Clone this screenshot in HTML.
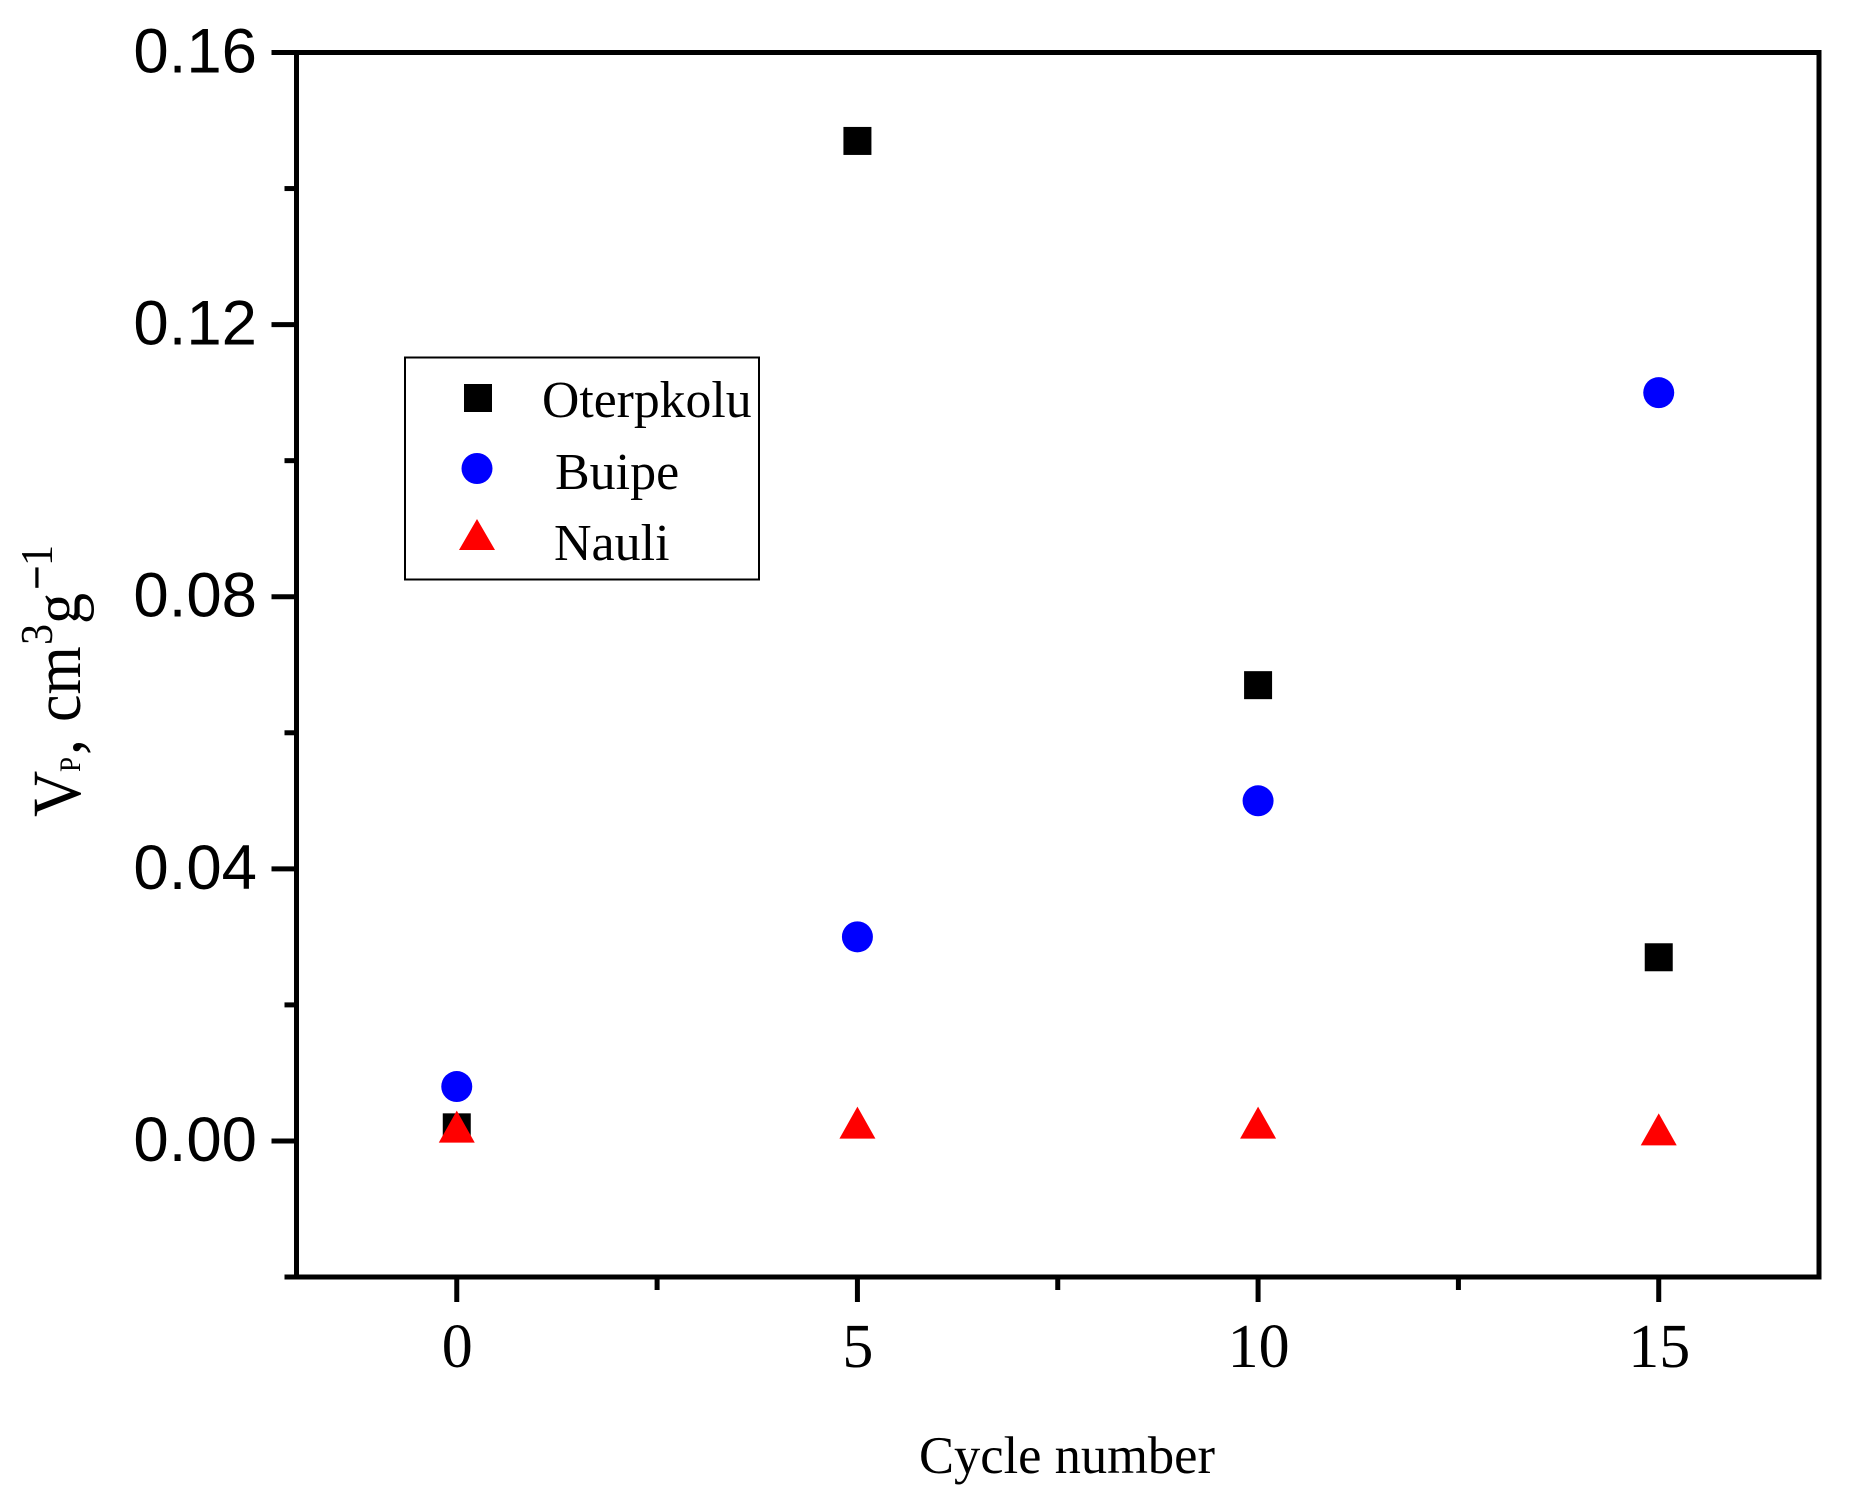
<!DOCTYPE html>
<html>
<head>
<meta charset="utf-8">
<title>Pore volume vs cycle number</title>
<style>
  html, body { margin: 0; padding: 0; background: #fff; }
  svg { display: block; }
  .sans { font-family: "Liberation Sans", Arial, sans-serif; }
  .serif { font-family: "Liberation Serif", "Times New Roman", serif; }
</style>
</head>
<body>
<svg id="chart" xmlns="http://www.w3.org/2000/svg" width="1859" height="1502" viewBox="0 0 1859 1502">
  <rect x="0" y="0" width="1859" height="1502" fill="#ffffff"/>
  <g id="ticks"></g>
  <rect id="frame" fill="none" stroke="#000" stroke-width="5"/>
  <g id="marks"></g>

  <g>
    <rect x="405" y="357.5" width="354" height="222" fill="#fff" stroke="#000" stroke-width="2"/>
    <rect x="464" y="384" width="28" height="28" fill="#000"/>
    <circle cx="477" cy="468.5" r="15.5" fill="#0000ff"/>
    <polygon points="477,519 495,550 459,550" fill="#ff0000"/>
    <text class="serif" x="542" y="417" font-size="51.7" fill="#000">Oterpkolu</text>
    <text class="serif" x="555" y="489" font-size="52" fill="#000">Buipe</text>
    <text class="serif" x="554" y="560" font-size="52" fill="#000">Nauli</text>
  </g>

  <text class="serif" x="919" y="1473" font-size="52.5" fill="#000">Cycle number</text>

  <g transform="translate(80,817) rotate(-90) scale(1,1.08)" class="serif" fill="#000">
    <text x="0" y="0" font-size="64">V</text>
    <text x="45" y="0" font-size="27">P</text>
    <text x="62" y="0" font-size="64">,</text>
    <text x="95" y="0" font-size="62">cm</text>
    <text x="172" y="-26" font-size="42">3</text>
    <text x="193" y="0" font-size="62">g</text>
    <text x="227" y="-26" font-size="42" class="sans">&#8722;</text>
    <text x="251" y="-26" font-size="42">1</text>
  </g>
</svg>
<script>
// Axis ranges
const xDomain = [-2, 17];
const yDomain = [-0.02, 0.16];

// Tick values and labels
const xMajorTicks = [0, 5, 10, 15];
const xMinorTicks = [2.5, 7.5, 12.5];
const xTickLabels = ["0", "5", "10", "15"];
const yMajorTicks = [0, 0.04, 0.08, 0.12, 0.16];
const yMinorTicks = [-0.02, 0.02, 0.06, 0.10, 0.14];
const yTickLabels = ["0.00", "0.04", "0.08", "0.12", "0.16"];

// Data
const cycles = [0, 5, 10, 15];
const oterpkolu = [0.002, 0.147, 0.067, 0.027];
const buipe = [0.008, 0.030, 0.050, 0.110];
const nauli = [0.0021, 0.0027, 0.0027, 0.0017];

// Plot geometry
const plotLeft = 296.5, plotRight = 1819, plotTop = 52.5, plotBottom = 1277;
const SVG_NS = "http://www.w3.org/2000/svg";

function xScale(v) {
  return plotLeft + (v - xDomain[0]) / (xDomain[1] - xDomain[0]) * (plotRight - plotLeft);
}
function yScale(v) {
  return plotBottom - (v - yDomain[0]) / (yDomain[1] - yDomain[0]) * (plotBottom - plotTop);
}
function make(tag, attrs) {
  const el = document.createElementNS(SVG_NS, tag);
  for (const k in attrs) el.setAttribute(k, attrs[k]);
  return el;
}

const frame = document.getElementById("frame");
frame.setAttribute("x", plotLeft);
frame.setAttribute("y", plotTop);
frame.setAttribute("width", plotRight - plotLeft);
frame.setAttribute("height", plotBottom - plotTop);

const ticks = document.getElementById("ticks");
const marks = document.getElementById("marks");

xMajorTicks.forEach(function (v, i) {
  const x = xScale(v);
  const line = make("line", { x1: x, x2: x, y1: plotBottom, y2: plotBottom + 25, stroke: "#000", "stroke-width": 5 });
  
  
  ticks.appendChild(line);
  const label = make("text", { x: x + 0.5, y: 1367, "text-anchor": "middle", "font-size": 62, fill: "#000", class: "serif" });
  
  
  label.textContent = xTickLabels[i];
  ticks.appendChild(label);
});
xMinorTicks.forEach(function (v) {
  const x = xScale(v);
  const line = make("line", { x1: x, x2: x, y1: plotBottom, y2: plotBottom + 13, stroke: "#000", "stroke-width": 5 });
  
  
  ticks.appendChild(line);
});
yMajorTicks.forEach(function (v, i) {
  const y = yScale(v);
  const line = make("line", { x1: plotLeft, x2: plotLeft - 25, y1: y, y2: y, stroke: "#000", "stroke-width": 5 });
  
  
  ticks.appendChild(line);
  const label = make("text", { x: 257, y: y + 20, "text-anchor": "end", "font-size": 63.5, fill: "#000", class: "sans" });
  
  
  label.textContent = yTickLabels[i];
  ticks.appendChild(label);
});
yMinorTicks.forEach(function (v) {
  const y = yScale(v);
  const line = make("line", { x1: plotLeft, x2: plotLeft - 12, y1: y, y2: y, stroke: "#000", "stroke-width": 5 });
  
  
  ticks.appendChild(line);
});

cycles.forEach(function (c, i) {
  const x = xScale(c);
  const y = yScale(oterpkolu[i]);
  const sq = make("rect", { x: x - 14, y: y - 14, width: 28, height: 28, fill: "#000" });
  
  
  marks.appendChild(sq);
});
cycles.forEach(function (c, i) {
  const circ = make("circle", { cx: xScale(c), cy: yScale(buipe[i]), r: 15.5, fill: "#0000ff" });
  
  
  marks.appendChild(circ);
});
cycles.forEach(function (c, i) {
  const x = xScale(c);
  const y = yScale(nauli[i]);
  const pts = [x, y - 16, x + 18, y + 16, x - 18, y + 16].join(" ");
  const tri = make("polygon", { points: pts, fill: "#ff0000" });
  
  
  marks.appendChild(tri);
});
</script>
</body>
</html>
